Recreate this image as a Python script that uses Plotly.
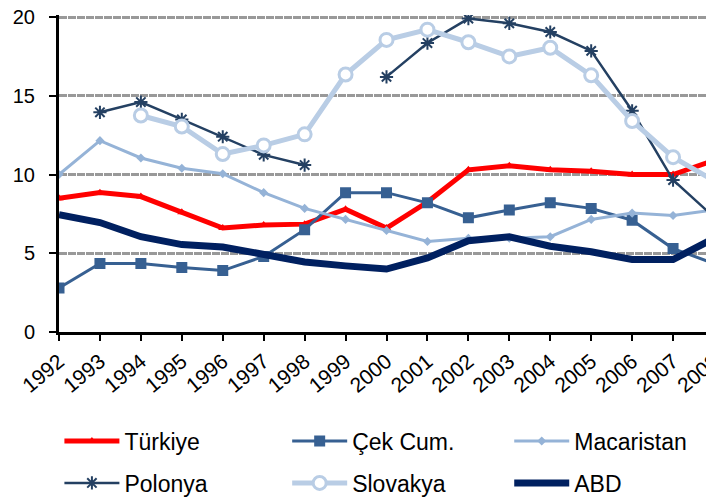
import plotly.graph_objects as go

# categories and series values
years = ["1992", "1993", "1994", "1995", "1996", "1997", "1998", "1999", "2000",
         "2001", "2002", "2003", "2004", "2005", "2006", "2007", "2008"]
turkiye = [8.5, 8.85, 8.6, 7.6, 6.6, 6.8, 6.85, 7.8, 6.6, 8.25, 10.3, 10.55, 10.3, 10.2, 10.0, 10.0, 10.9]
cek = [2.8, 4.35, 4.35, 4.1, 3.9, 4.8, 6.5, 8.85, 8.85, 8.2, 7.25, 7.75, 8.2, 7.85, 7.1, 5.3, 4.35]
macaristan = [10.0, 12.15, 11.05, 10.4, 10.05, 8.85, 7.85, 7.15, 6.45, 5.75, 5.95, 5.95, 6.05, 7.15, 7.55, 7.4, 7.75]
polonya = [None, 13.95, 14.6, 13.5, 12.4, 11.25, 10.6, None, 16.2, 18.35, 19.9, 19.6, 19.05, 17.85, 14.05, 9.65, 7.3]
slovakya = [None, None, 13.75, 13.05, 11.3, 11.85, 12.55, 16.35, 18.55, 19.2, 18.4, 17.5, 18.05, 16.3, 13.4, 11.1, 9.6]
abd = [7.45, 6.95, 6.05, 5.55, 5.4, 4.95, 4.45, 4.2, 4.0, 4.7, 5.8, 6.05, 5.45, 5.1, 4.6, 4.6, 5.95]

y_ticks = [0, 5, 10, 15, 20]

FONT = "Arial, Liberation Sans, sans-serif"

fig = go.Figure()

# (name, values, colour, line width, marker)
series = [
    ("Türkiye", turkiye, "#FF0000", 5, dict(symbol="triangle-up", size=8, color="#FF0000")),
    ("Çek Cum.", cek, "#376092", 3, dict(symbol="square", size=9, color="#376092",
                                          line=dict(color="#376092", width=2))),
    ("Macaristan", macaristan, "#95B3D7", 3, dict(symbol="diamond", size=7, color="#95B3D7")),
    ("Polonya", polonya, "#244062", 2.5, dict(symbol="asterisk-open", size=11,
                                              line=dict(color="#244062", width=2))),
    ("Slovakya", slovakya, "#B9CDE5", 5, dict(symbol="circle", size=13, color="white",
                                              line=dict(color="#B9CDE5", width=3))),
    ("ABD", abd, "#002060", 7, None),
]

# one single-item legend per trace, so the 2x3 grid can be placed like the original
legend_x = [0.072, 0.391, 0.702]
legend_y = [0.134, 0.050]
legends = {}
for i, (name, vals, color, width, marker) in enumerate(series):
    key = "legend" if i == 0 else f"legend{i + 1}"
    fig.add_trace(go.Scatter(
        x=years,
        y=vals,
        name=name,
        mode="lines+markers" if marker else "lines",
        line=dict(color=color, width=width),
        marker=marker,
        legend=key,
    ))
    legends[key] = dict(
        xref="container", yref="container",
        x=legend_x[i % 3], y=legend_y[i // 3],
        xanchor="left", yanchor="middle",
        orientation="h", itemwidth=55,
        font=dict(size=23, family=FONT, color="black"),
        bgcolor="rgba(0,0,0,0)",
    )

# page body margin shifts the figure by 8px, margins account for it
fig.update_layout(
    width=714,
    height=500,
    margin=dict(l=51, r=8, t=7, b=176, autoexpand=False),
    paper_bgcolor="white",
    plot_bgcolor="white",
    font=dict(family=FONT, color="black"),
    showlegend=True,
    **legends,
)

fig.update_xaxes(
    type="category",
    range=[0, 16],
    showline=True, linecolor="black", linewidth=3,
    ticks="outside", ticklen=6, tickwidth=2, tickcolor="black",
    tickangle=-40,
    tickfont=dict(size=21, family=FONT, color="black"),
    ticklabeloverflow="allow",
    showgrid=False,
    zeroline=False,
)

fig.update_yaxes(
    range=[0, 20.13],
    tickvals=y_ticks,
    showline=True, linecolor="black", linewidth=3,
    ticks="outside", ticklen=7, tickwidth=2, tickcolor="black",
    ticklabelstandoff=10,
    ticklabeloverflow="allow",
    tickfont=dict(size=20, family=FONT, color="black"),
    showgrid=True, gridcolor="#999999", gridwidth=3, griddash="8px,1px",
    zeroline=False,
)

fig.write_html("out.html")
